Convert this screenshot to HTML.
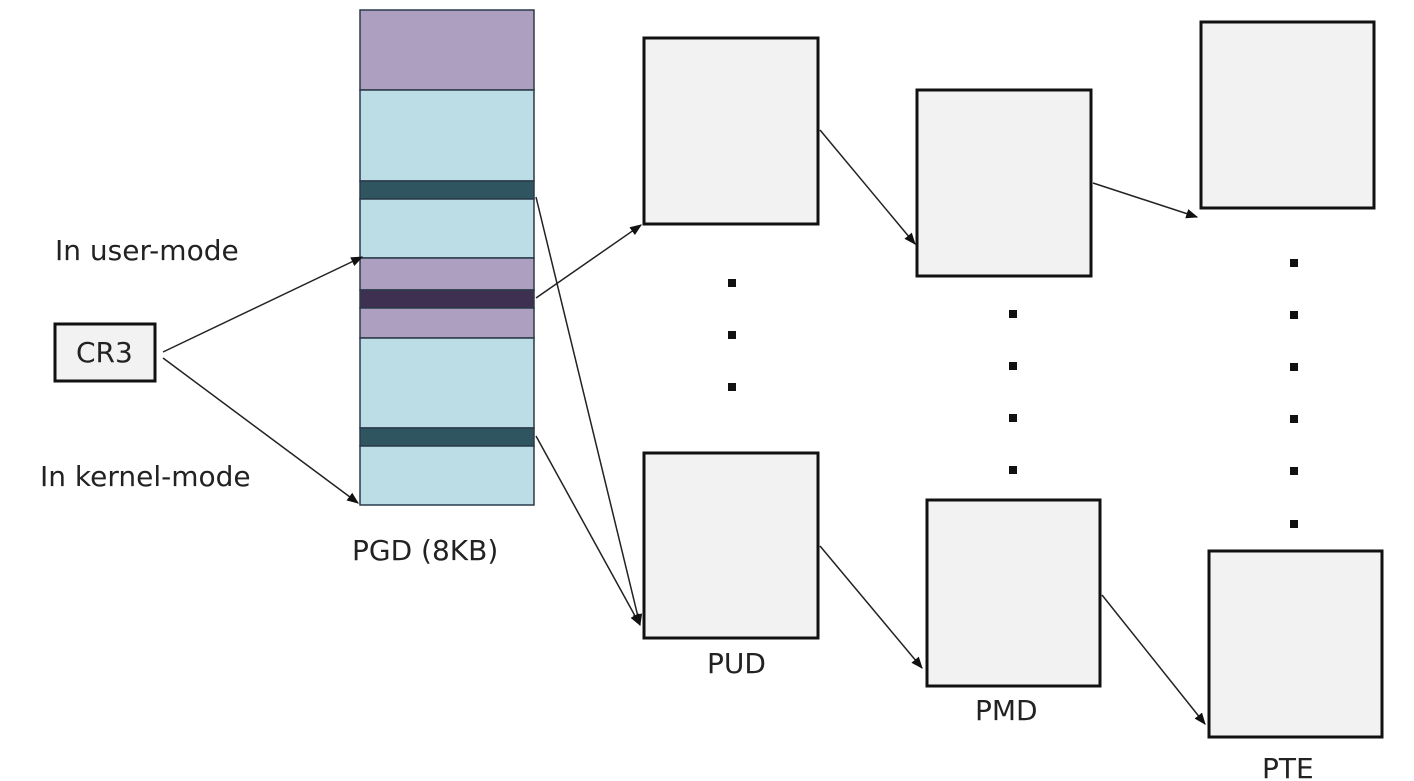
<!DOCTYPE html>
<html><head><meta charset="utf-8"><style>
html,body{margin:0;padding:0;background:#fff;}
svg{display:block;}
text{font-family:"DejaVu Sans","Liberation Sans",sans-serif;font-size:28px;fill:#222;}
</style></head><body>
<svg width="1414" height="781" viewBox="0 0 1414 781" xmlns="http://www.w3.org/2000/svg">
<defs>
<marker id="a" viewBox="0 0 10 10" refX="9" refY="5" markerWidth="12" markerHeight="12" markerUnits="userSpaceOnUse" orient="auto">
<path d="M0,1 L10,5 L0,9 z" fill="#111"/></marker>
</defs>
<!-- PGD column -->
<g stroke="#2a3a4a" stroke-width="1.5">
<rect x="360" y="10" width="174" height="80" fill="#ad9fc0"/>
<rect x="360" y="90" width="174" height="91" fill="#bcdde5"/>
<rect x="360" y="181" width="174" height="18" fill="#2f5560"/>
<rect x="360" y="199" width="174" height="59" fill="#bcdde5"/>
<rect x="360" y="258" width="174" height="32" fill="#ad9fc0"/>
<rect x="360" y="290" width="174" height="18" fill="#3e3050"/>
<rect x="360" y="308" width="174" height="30" fill="#ad9fc0"/>
<rect x="360" y="338" width="174" height="90" fill="#bcdde5"/>
<rect x="360" y="428" width="174" height="18" fill="#2f5560"/>
<rect x="360" y="446" width="174" height="59" fill="#bcdde5"/>
</g>
<!-- boxes -->
<g fill="#f2f2f2" stroke="#111" stroke-width="3">
<rect x="55" y="324" width="100" height="57"/>
<rect x="644" y="38" width="174" height="186"/>
<rect x="644" y="453" width="174" height="185"/>
<rect x="917" y="90" width="174" height="186"/>
<rect x="927" y="500" width="173" height="186"/>
<rect x="1201" y="22" width="173" height="186"/>
<rect x="1209" y="551" width="173" height="186"/>
</g>
<!-- arrows -->
<g stroke="#222" stroke-width="1.5" fill="none" marker-end="url(#a)">
<line x1="163" y1="352" x2="362" y2="257"/>
<line x1="163" y1="358" x2="358" y2="503"/>
<line x1="536" y1="197" x2="640" y2="625"/>
<line x1="536" y1="298" x2="641" y2="225"/>
<line x1="536" y1="436" x2="640" y2="625"/>
<line x1="820" y1="130" x2="915" y2="244"/>
<line x1="1093" y1="183" x2="1197" y2="217"/>
<line x1="820" y1="546" x2="922" y2="668"/>
<line x1="1102" y1="595" x2="1205" y2="724"/>
</g>
<!-- dots -->
<g fill="#111">
<rect x="728" y="279" width="8" height="8"/><rect x="728" y="331" width="8" height="8"/><rect x="728" y="383" width="8" height="8"/>
<rect x="1009" y="310" width="8" height="8"/><rect x="1009" y="362" width="8" height="8"/><rect x="1009" y="414" width="8" height="8"/><rect x="1009" y="466" width="8" height="8"/>
<rect x="1290" y="259" width="8" height="8"/><rect x="1290" y="311" width="8" height="8"/><rect x="1290" y="363" width="8" height="8"/><rect x="1290" y="415" width="8" height="8"/><rect x="1290" y="467" width="8" height="8"/><rect x="1290" y="520" width="8" height="8"/>
</g>
<!-- labels -->
<text x="55" y="260">In user-mode</text>
<text x="40" y="486">In kernel-mode</text>
<text x="76" y="362" font-size="26">CR3</text>
<text x="352" y="560">PGD (8KB)</text>
<text x="707" y="673">PUD</text>
<text x="975" y="720">PMD</text>
<text x="1262" y="778">PTE</text>
</svg>
</body></html>
